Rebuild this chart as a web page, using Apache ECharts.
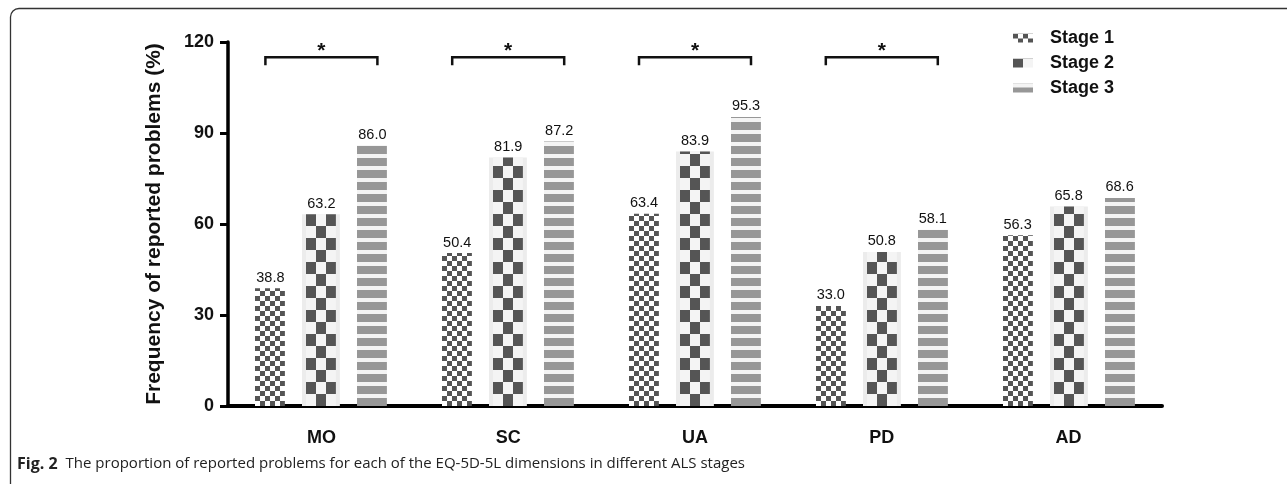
<!DOCTYPE html>
<html><head><meta charset="utf-8">
<script src="https://cdn.jsdelivr.net/npm/echarts@6/dist/echarts.min.js"></script>
<style>html,body{margin:0;padding:0;background:#fff}#c{width:1287px;height:484px}</style>
</head><body><div id="c"></div>
<script>
const categories = ['MO', 'SC', 'UA', 'PD', 'AD'];
const stage1 = [38.8, 50.4, 63.4, 33.0, 56.3];
const stage2 = [63.2, 81.9, 83.9, 50.8, 65.8];
const stage3 = [86.0, 87.2, 95.3, 58.1, 68.6];
const seriesNames = ['Stage 1', 'Stage 2', 'Stage 3'];
const yMin = 0, yMax = 120, yStep = 30;
const significant = ['MO', 'SC', 'UA', 'PD'];
const sigLevel = 115;
const yName = 'Frequency of reported problems (%)';
const captionBold = 'Fig. 2';
const captionText = 'The proportion of reported problems for each of the EQ-5D-5L dimensions in different ALS stages';

function makeCanvas(w, h, draw) {
  const c = document.createElement('canvas');
  c.width = w; c.height = h;
  draw(c.getContext('2d'));
  return c;
}
const pat1 = makeCanvas(10, 10, g => {
  g.fillStyle = '#ffffff'; g.fillRect(0, 0, 10, 10);
  g.fillStyle = '#555555'; g.fillRect(0, 0, 5, 5); g.fillRect(5, 5, 5, 5);
});
const pat2 = makeCanvas(20, 24, g => {
  g.fillStyle = '#f4f4f4'; g.fillRect(0, 0, 20, 24);
  g.fillStyle = '#555555'; g.fillRect(0, 0, 10, 12); g.fillRect(10, 12, 10, 12);
});
const pat3 = makeCanvas(4, 12, g => {
  g.fillStyle = '#f4f4f4'; g.fillRect(0, 0, 4, 12);
  g.fillStyle = '#979797'; g.fillRect(0, 4, 4, 8);
});
const patterns = [pat1, pat2, pat3];
const values = [stage1, stage2, stage3];

function makeRender(k) {
  return function (params, api) {
    const idx = api.value(0), v = api.value(1);
    const base = api.coord([idx, 0]);
    const top = api.coord([idx, v]);
    const band = api.size([1, 0])[0];
    const w = band * 0.16, step = band * 0.273;
    const cx = base[0] + (k - 1) * step;
    const x0 = Math.round(cx - w / 2);
    const h = base[1] - top[1];
    const children = [];
    if (k === 1) {
      children.push({ type: 'rect', shape: { x: x0 - 4, y: top[1], width: w + 8, height: h }, style: { fill: '#ececec' } });
    }
    children.push({ type: 'rect', shape: { x: x0, y: top[1], width: w, height: h },
      style: { fill: { image: patterns[k], repeat: 'repeat', x: x0, y: Math.round(base[1]) } } });
    children.push({ type: 'text', style: { text: v.toFixed(1), x: cx, y: top[1] - 3, align: 'center', verticalAlign: 'bottom',
      font: '14.5px "Liberation Sans"', fill: '#111' } });
    return { type: 'group', children };
  };
}

const series = values.map((arr, k) => ({
  type: 'custom',
  name: seriesNames[k],
  data: arr.map((v, i) => [i, v]),
  encode: { x: 0, y: 1 },
  itemStyle: { color: { image: patterns[k], repeat: 'repeat' } },
  renderItem: makeRender(k)
}));

series.push({
  type: 'custom',
  silent: true,
  z: 5,
  data: significant.map(c => [categories.indexOf(c), sigLevel]),
  encode: { x: 0, y: 1 },
  renderItem: function (params, api) {
    const p = api.coord([api.value(0), api.value(1)]);
    const band = api.size([1, 0])[0];
    const half = band * 0.273 + 5;
    const legs = 8;
    return { type: 'group', children: [
      { type: 'polyline', shape: { points: [[p[0] - half, p[1] + legs], [p[0] - half, p[1]], [p[0] + half, p[1]], [p[0] + half, p[1] + legs]] },
        style: { stroke: '#111', lineWidth: 2.5, fill: null } },
      { type: 'text', style: { text: '*', x: p[0], y: p[1] + 5, align: 'center', verticalAlign: 'bottom', font: 'bold 21px "Liberation Sans"', fill: '#111' } }
    ] };
  }
});

const chart = echarts.init(document.getElementById('c'), null, { renderer: 'canvas' });
chart.setOption({
  animation: false,
  backgroundColor: '#fff',
  grid: { left: 228, right: 125, top: 42, bottom: 78, containLabel: false },
  legend: {
    orient: 'vertical', left: 1013, top: 29, padding: 0, itemWidth: 20, itemHeight: 9, itemGap: 7,
    icon: 'rect', data: seriesNames,
    textStyle: { fontFamily: 'Liberation Sans', fontWeight: 'bold', fontSize: 18, color: '#111', padding: [0, 0, 0, 12] }
  },
  xAxis: {
    type: 'category', data: categories,
    axisLine: { lineStyle: { color: '#000', width: 4 } },
    axisTick: { alignWithLabel: true, length: 10, lineStyle: { color: '#000', width: 3 } },
    axisLabel: { fontFamily: 'Liberation Sans', fontWeight: 'bold', fontSize: 18, color: '#111', margin: 23 }
  },
  yAxis: {
    type: 'value', min: yMin, max: yMax, interval: yStep,
    name: yName, nameLocation: 'middle', nameGap: 63,
    nameTextStyle: { fontFamily: 'Liberation Sans', fontWeight: 'bold', fontSize: 21, color: '#111' },
    axisLine: { show: true, lineStyle: { color: '#000', width: 3.5 } },
    axisTick: { show: true, length: 8, lineStyle: { color: '#000', width: 3 } },
    axisLabel: { fontFamily: 'Liberation Sans', fontWeight: 'bold', fontSize: 18, color: '#111', margin: 14 },
    splitLine: { show: false }
  },
  graphic: [
    { type: 'polyline', silent: true, shape: { points: [[10.5, 484], [10.5, 17]] }, style: { stroke: '#333', lineWidth: 1.3, fill: null } },
    { type: 'arc', silent: true, shape: { cx: 19, cy: 17, r: 8.5, startAngle: Math.PI, endAngle: Math.PI * 1.5, clockwise: true }, style: { stroke: '#333', lineWidth: 1.3, fill: null } },
    { type: 'polyline', silent: true, shape: { points: [[19, 8.5], [1287, 8.5]] }, style: { stroke: '#333', lineWidth: 1.3, fill: null } },
    { type: 'text', silent: true, left: 17, top: 456,
      style: { text: '{b|' + captionBold + '}{n|' + captionText + '}', fill: '#222',
        rich: { b: { font: 'bold 16px "Open Sans"', fill: '#222', padding: [0, 8, 0, 0] }, n: { font: '15px "Open Sans"', fill: '#222' } } } }
  ],
  series: series
});
</script>
</body></html>
